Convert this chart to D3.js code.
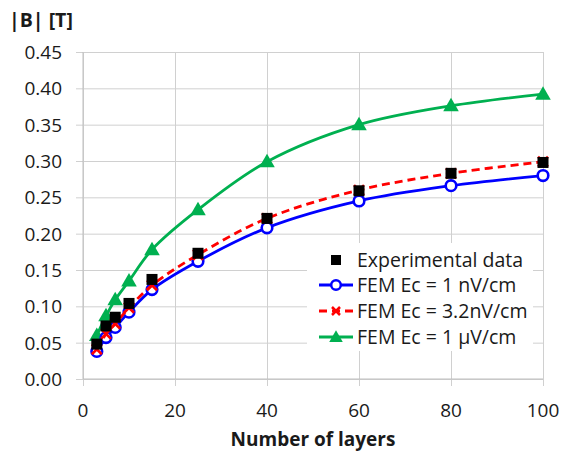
<!DOCTYPE html>
<html>
<head>
<meta charset="utf-8">
<script src="https://cdn.jsdelivr.net/npm/d3@7"></script>
<style>
  body { margin: 0; background: #fff; }
  text { font-family: "Open Sans", sans-serif; fill: #1a1a1a; }
</style>
</head>
<body>
<script>
// number of layers (x)
var layers = [3, 5, 7, 10, 15, 25, 40, 60, 80, 100];
// |B| values
var experimental = [0.048, 0.073, 0.085, 0.104, 0.137, 0.173, 0.221, 0.259, 0.283, 0.298];
var femEc1n = [0.038, 0.057, 0.071, 0.092, 0.123, 0.162, 0.208, 0.245, 0.266, 0.280];
var femEc32n = [0.041, 0.062, 0.076, 0.098, 0.129, 0.171, 0.221, 0.260, 0.283, 0.299];
var femEc1u = [0.060, 0.087, 0.109, 0.135, 0.178, 0.233, 0.299, 0.350, 0.376, 0.392];
var yTicks = [0, 0.05, 0.10, 0.15, 0.20, 0.25, 0.30, 0.35, 0.40, 0.45];
var xTicks = [0, 20, 40, 60, 80, 100];
var legendLabels = ["Experimental data", "FEM Ec = 1 nV/cm", "FEM Ec = 3.2nV/cm", "FEM Ec = 1 \u00b5V/cm"];

var margin = { top: 52, right: 22, bottom: 75, left: 83 },
    width = 565 - margin.left - margin.right,
    height = 454 - margin.top - margin.bottom;

var svg = d3.select("body").append("svg")
    .attr("width", 565)
    .attr("height", 454);

var g = svg.append("g")
    .attr("transform", "translate(" + margin.left + "," + margin.top + ")");

var x = d3.scaleLinear().domain([0, 100]).range([0, width]);
var y = d3.scaleLinear().domain([0, 0.45]).range([height, 0]);

// gridlines
g.append("g")
    .call(d3.axisLeft(y).tickValues(yTicks).tickSize(-width).tickFormat(""))
    .call(a => a.select(".domain").remove())
    .selectAll("line").attr("stroke", "#d0d0d0").attr("x1", -7);

g.append("g")
    .attr("transform", "translate(0," + height + ")")
    .call(d3.axisBottom(x).tickValues(xTicks).tickSize(-height).tickFormat(""))
    .call(a => a.select(".domain").remove())
    .selectAll("line").attr("stroke", "#d0d0d0").attr("y1", 7);

// axis lines
g.append("line").attr("x1", 0).attr("x2", 0).attr("y1", 0).attr("y2", height)
    .attr("stroke", "#bfbfbf");
g.append("line").attr("x1", 0).attr("x2", width).attr("y1", height).attr("y2", height)
    .attr("stroke", "#bfbfbf");

// tick labels
g.selectAll(".ylab").data(yTicks).enter().append("text")
    .attr("x", -21)
    .attr("y", d => y(d))
    .attr("dy", "0.36em")
    .attr("text-anchor", "end")
    .style("font-size", "19px")
    .text(d => d3.format(".2f")(d));

g.selectAll(".xlab").data(xTicks).enter().append("text")
    .attr("x", d => x(d))
    .attr("y", height + 31)
    .attr("dy", "0.36em")
    .attr("text-anchor", "middle")
    .style("font-size", "19px")
    .text(d => d);

// titles
svg.append("text")
    .attr("x", 9).attr("y", 27)
    .style("font-size", "19.5px").style("font-weight", "bold")
    .text("|B| [T]");

svg.append("text")
    .attr("x", 313).attr("y", 446)
    .attr("text-anchor", "middle")
    .style("font-size", "19px").style("font-weight", "bold")
    .text("Number of layers");

var line = d3.line()
    .x(d => x(d[0]))
    .y(d => y(d[1]))
    .curve(d3.curveCatmullRom.alpha(0.5));

function pairs(vals) { return layers.map((l, i) => [l, vals[i]]); }

var triangle = d3.symbol().type(d3.symbolTriangle).size(105);
var cross = "M-5,-5L5,5M-5,5L5,-5";

// green
g.append("path").datum(pairs(femEc1u)).attr("d", line)
    .attr("fill", "none").attr("stroke", "#00b050").attr("stroke-width", 2.8);
g.selectAll(".tri").data(pairs(femEc1u)).enter().append("path")
    .attr("d", triangle)
    .attr("transform", d => "translate(" + x(d[0]) + "," + (y(d[1]) + 1) + ")")
    .attr("fill", "#00b050");

// blue
g.append("path").datum(pairs(femEc1n)).attr("d", line)
    .attr("fill", "none").attr("stroke", "#0000ff").attr("stroke-width", 2.8);
g.selectAll(".circ").data(pairs(femEc1n)).enter().append("circle")
    .attr("cx", d => x(d[0])).attr("cy", d => y(d[1])).attr("r", 5.3)
    .attr("fill", "#fff").attr("stroke", "#0000ff").attr("stroke-width", 2.6);

// red
g.append("path").datum(pairs(femEc32n)).attr("d", line)
    .attr("fill", "none").attr("stroke", "#ff0000").attr("stroke-width", 2.8)
    .attr("stroke-dasharray", "8,5");
g.selectAll(".xm").data(pairs(femEc32n)).enter().append("path")
    .attr("d", cross)
    .attr("transform", d => "translate(" + x(d[0]) + "," + y(d[1]) + ")")
    .attr("stroke", "#ff0000").attr("stroke-width", 2.6);

// experimental squares
g.selectAll(".sq").data(pairs(experimental)).enter().append("rect")
    .attr("x", d => x(d[0]) - 5.5).attr("y", d => y(d[1]) - 5.5)
    .attr("width", 11).attr("height", 11)
    .attr("fill", "#000");

// legend
var legend = svg.append("g").attr("transform", "translate(307,243)");
legend.append("rect").attr("width", 226).attr("height", 108).attr("fill", "#fff");

var rowY = [17, 42, 68, 94];
legend.selectAll(".lt").data(legendLabels).enter().append("text")
    .attr("x", 50)
    .attr("y", (d, i) => rowY[i])
    .attr("dy", "0.36em")
    .style("font-size", "19.5px")
    .text(d => d);

legend.append("rect").attr("x", 24).attr("y", rowY[0] - 5).attr("width", 10).attr("height", 10).attr("fill", "#000");

legend.append("line").attr("x1", 12).attr("x2", 46).attr("y1", rowY[1]).attr("y2", rowY[1])
    .attr("stroke", "#0000ff").attr("stroke-width", 2.8);
legend.append("circle").attr("cx", 29).attr("cy", rowY[1]).attr("r", 4.8)
    .attr("fill", "#fff").attr("stroke", "#0000ff").attr("stroke-width", 2.5);

legend.append("line").attr("x1", 12).attr("x2", 46).attr("y1", rowY[2]).attr("y2", rowY[2])
    .attr("stroke", "#ff0000").attr("stroke-width", 2.8).attr("stroke-dasharray", "8,5");
legend.append("path").attr("d", "M-4,-4L4,4M-4,4L4,-4")
    .attr("transform", "translate(29," + rowY[2] + ")")
    .attr("stroke", "#ff0000").attr("stroke-width", 2.5);

legend.append("line").attr("x1", 12).attr("x2", 46).attr("y1", rowY[3]).attr("y2", rowY[3])
    .attr("stroke", "#00b050").attr("stroke-width", 2.8);
legend.append("path").attr("d", d3.symbol().type(d3.symbolTriangle).size(80))
    .attr("transform", "translate(29," + (rowY[3] + 1) + ")")
    .attr("fill", "#00b050");
</script>
</body>
</html>
